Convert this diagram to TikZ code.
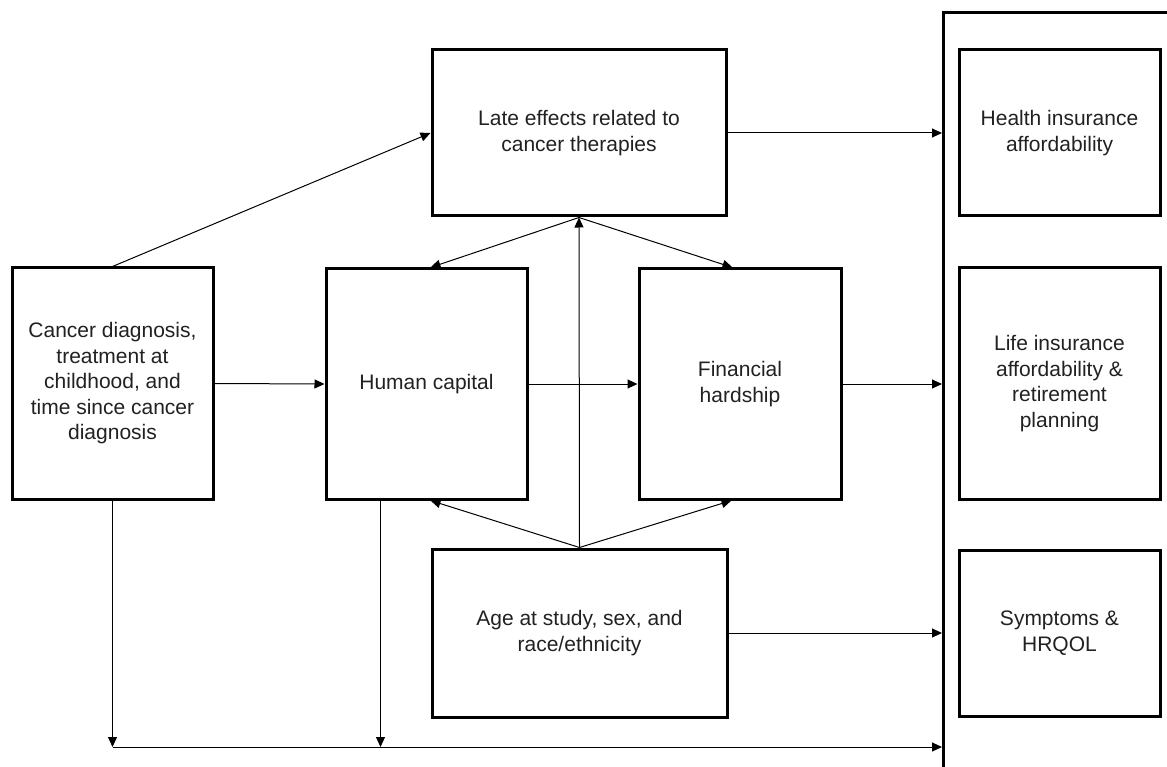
\documentclass[tikz,border=0pt]{standalone}
\usepackage{fontspec}
\setmainfont{Liberation Sans}
\usetikzlibrary{arrows.meta,calc}
\definecolor{txt}{rgb}{0.13,0.13,0.13}
\begin{document}
\begin{tikzpicture}[x=1pt,y=-1pt,
  box/.style={draw,line width=3pt,rectangle,align=center,text=txt,
    font=\fontsize{21}{25.5}\selectfont,inner sep=4pt},
  conn/.style={line width=1pt,-{Triangle[length=10pt,width=9pt]}},
  plain/.style={line width=1pt}]
\useasboundingbox (0,0) rectangle (1167,767);
\clip (0,0) rectangle (1167,767);
\node[draw,line width=3pt,rectangle,minimum width=300,minimum height=820,anchor=north west] (outer) at (942,11) {};
\node[box,minimum width=294,minimum height=166] (late) at (579,133) {Late effects related to\\cancer therapies};
\node[box,minimum width=201,minimum height=231] (cancer) at (112.5,383.5) {Cancer diagnosis,\\treatment at\\childhood, and\\time since cancer\\diagnosis};
\node[box,minimum width=201,minimum height=230] (human) at (426.5,384) {Human capital};
\node[box,minimum width=202,minimum height=230] (fin) at (740,384) {Financial\\hardship};
\node[box,minimum width=295,minimum height=168] (age) at (579.5,633) {Age at study, sex, and\\race/ethnicity};
\node[box,minimum width=201,minimum height=166] (health) at (1059.5,133) {Health insurance\\affordability};
\node[box,minimum width=201,minimum height=231] (life) at (1059.5,383.5) {Life insurance\\affordability \&\\retirement\\planning};
\node[box,minimum width=201,minimum height=166] (sym) at (1059.5,633) {Symptoms \&\\HRQOL};
\coordinate (hnorth) at ($(human.north west)+(106,0)$);
\coordinate (hsouth) at ($(human.south west)+(106,0)$);
\coordinate (fnorth) at ($(fin.north west)+(95,0)$);
\coordinate (fsouth) at ($(fin.south west)+(94,0)$);
\coordinate (hdown) at ($(human.south west)+(56,0)$);
\coordinate (cdown) at (cancer.south);
\coordinate (bl) at (cancer.south |- 0,747);
\coordinate (bh) at (hdown |- 0,747);
\coordinate (agetop) at (age.north);
\coordinate (latebot) at (late.south);
\draw[conn] (cancer.north) -- (late.west);
\draw[conn] (late.east) -- (late.east -| outer.west);
\draw[conn] (latebot) -- (hnorth);
\draw[conn] (latebot) -- (fnorth);
\draw[conn] (agetop) -- (latebot);
\draw[conn] (agetop) -- (hsouth);
\draw[conn] (agetop) -- (fsouth);
\draw[conn] (cancer.east) -- (human.west);
\draw[conn] (human.east) -- (fin.west);
\draw[conn] (fin.east) -- (fin.east -| outer.west);
\draw[conn] (age.east) -- (age.east -| outer.west);
\draw[conn] (cdown) -- (bl);
\draw[conn] (hdown) -- (bh);
\draw[conn] (bl) -- (bl -| outer.west);
\end{tikzpicture}
\end{document}
